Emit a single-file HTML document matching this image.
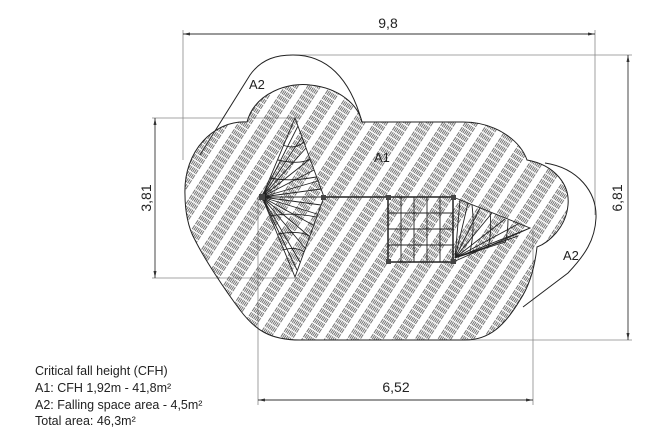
<!DOCTYPE html>
<html><head><meta charset="utf-8"><style>
html,body{margin:0;padding:0;background:#fff;}
svg{display:block;}
text{font-family:"Liberation Sans",sans-serif;fill:#222;}
</style></head><body>
<svg width="650" height="438" viewBox="0 0 650 438" xmlns="http://www.w3.org/2000/svg">
<defs>
<pattern id="h" width="19" height="6" patternUnits="userSpaceOnUse" patternTransform="rotate(33)">
<g stroke="#444" stroke-width="0.75" stroke-dasharray="3.5,1.2">
<line x1="1" y1="0" x2="1" y2="6"/><line x1="2.8" y1="0" x2="2.8" y2="6"/><line x1="4.6" y1="0" x2="4.6" y2="6"/><line x1="6.4" y1="0" x2="6.4" y2="6"/><line x1="8.2" y1="0" x2="8.2" y2="6"/><line x1="10" y1="0" x2="10" y2="6"/><line x1="11.8" y1="0" x2="11.8" y2="6"/>
</g>
</pattern>
</defs>
<g fill="none" stroke="#888" stroke-width="0.8">
<line x1="183" y1="30" x2="183" y2="160"/>
<line x1="595" y1="30" x2="595" y2="215"/>
<line x1="290" y1="55" x2="632" y2="55"/>
<line x1="300" y1="340" x2="632" y2="340"/>
<line x1="152" y1="118" x2="300" y2="118"/>
<line x1="152" y1="278" x2="300" y2="278"/>
<line x1="258" y1="197" x2="258" y2="405"/>
<line x1="533" y1="228" x2="533" y2="405"/>
</g>
<g stroke="#333" stroke-width="0.9" fill="#333">
<line x1="183" y1="34" x2="595" y2="34"/>
<line x1="628" y1="55" x2="628" y2="340"/>
<line x1="155" y1="118" x2="155" y2="278"/>
<line x1="258" y1="400" x2="533" y2="400"/>
<path d="M183,34 l7,-1.5 v3z M595,34 l-7,-1.5 v3z M628,55 l-1.5,7 h3z M628,340 l-1.5,-7 h3z M155,118 l-1.5,7 h3z M155,278 l-1.5,-7 h3z M258,400 l7,-1.5 v3z M533,400 l-7,-1.5 v3z" stroke="none"/>
</g>
<text x="388" y="28" font-size="14" text-anchor="middle">9,8</text>
<text x="396" y="392" font-size="14" text-anchor="middle">6,52</text>
<text transform="translate(151,198) rotate(-90)" font-size="14" text-anchor="middle">3,81</text>
<text transform="translate(622,198) rotate(-90)" font-size="14" text-anchor="middle">6,81</text>
<g fill="none" stroke="#222" stroke-width="1">
<path d="M200,155 L250,75 C262,58 278,55 293,55 C322,55 348,72 362,122"/>
<path d="M545,163 C578,168 597,192 596,218 C595,240 585,255 568,273 L523,307"/>
</g>
<path d="M185,195 C183,150 215,120 247,122 C255,92 290,82 310,85 C340,88 358,105 362,122 L463,122 C495,122 520,140 527,160 C555,165 570,185 568,205 C566,228 548,243 537,247 C535,265 530,285 520,300 C505,325 490,340 465,340 L300,340 C270,340 255,330 240,310 C225,290 205,260 195,240 C188,228 185,210 185,195 Z" fill="url(#h)" stroke="#222" stroke-width="1"/>
<g stroke="#222" stroke-width="0.9" fill="none">
<path d="M295,118 L324,197 L295,277 L262,197 Z"/>
<path d="M262,197 L324,197 M262,197 L298,126 M262,197 L302,137 M262,197 L306,148 M262,197 L310,159 M262,197 L314,170 M262,197 L318,181 M262,197 L321,189 M262,197 L321,205 M262,197 L317,214 M262,197 L313,225 M262,197 L309,236 M262,197 L305,248 M262,197 L300,262 M262,197 L297,270"/>
<path d="M278,160 Q300,165 310,159 M270,178 Q290,182 316,177 M283,145 Q295,150 304,142 M270,216 Q292,212 316,217 M278,234 Q300,230 309,236 M283,250 Q296,246 304,252"/>
<line x1="324" y1="197" x2="390" y2="197" stroke-width="1.6"/>
<rect x="388" y="197" width="65" height="65" stroke-width="1.5"/>
<path d="M401,197V262 M414,197V262 M427,197V262 M440,197V262 M388,213H453 M388,229H453 M388,245H453"/>
<path d="M453,197 L530,228 L453,262"/>
<path d="M455,258 L530,228 M455,258 L518,224 M455,258 L505,219 M455,258 L492,213 M455,258 L480,208 M455,258 L468,203 M455,258 L460,200 M455,258 L518,236 M455,258 L505,242"/>
<path d="M472,205 Q475,230 470,252 M490,212 Q492,232 488,248 M508,220 Q508,232 505,243"/>
</g>
<g fill="#444">
<rect x="259" y="194" width="6" height="6"/><rect x="321" y="195" width="5" height="5"/>
<rect x="386" y="195" width="5" height="5"/><rect x="451" y="195" width="5" height="5"/>
<rect x="386" y="259" width="5" height="5"/><rect x="451" y="259" width="5" height="5"/>
</g>
<text x="374" y="162" font-size="13">A1</text>
<text x="249" y="89" font-size="13">A2</text>
<text x="563" y="260" font-size="13">A2</text>
<g font-size="12.5">
<text x="35" y="375">Critical fall height (CFH)</text>
<text x="35" y="392">A1: CFH 1,92m - 41,8m²</text>
<text x="35" y="409">A2: Falling space area - 4,5m²</text>
<text x="35" y="425">Total area: 46,3m²</text>
</g>
</svg>
</body></html>
